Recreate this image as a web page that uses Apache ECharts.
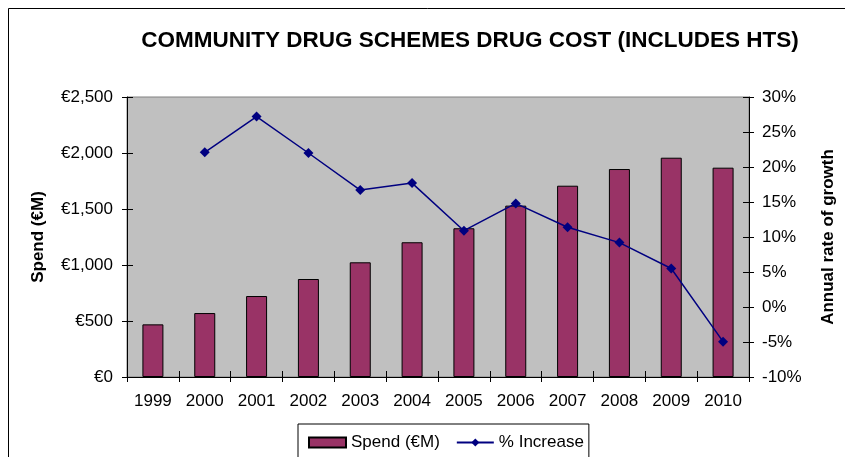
<!DOCTYPE html>
<html>
<head>
<meta charset="utf-8">
<script src="https://cdn.jsdelivr.net/npm/echarts@6/dist/echarts.min.js"></script>
<style>
  html, body { margin: 0; padding: 0; background: #fff; }
  #chart { width: 845px; height: 457px; }
</style>
</head>
<body>
<div id="chart"></div>
<script>
// Community drug schemes: yearly spend (€M) and annual growth (%)
const years = ['1999', '2000', '2001', '2002', '2003', '2004', '2005', '2006', '2007', '2008', '2009', '2010'];
const spend = [470, 571, 723, 875, 1024, 1203, 1328, 1530, 1708, 1857, 1958, 1869];
const increase = [null, 22.1, 27.2, 22.0, 16.7, 17.7, 10.9, 14.8, 11.4, 9.2, 5.5, -4.95];

const spendTicks = { min: 0, max: 2500, interval: 500 };
const growthTicks = { min: -10, max: 30, interval: 5 };

const FONT = 'Liberation Sans, Arial, sans-serif';
const labelStyle = { color: '#000', fontFamily: FONT, fontSize: 17 };

const chart = echarts.init(document.getElementById('chart'), null, { renderer: 'canvas' });

function euro(v) {
  return '€' + v.toLocaleString('en-US');
}

// second copies of each axis carry only the inner half of the cross tick marks
const innerTick = { show: true, inside: true, length: 6, lineStyle: { color: '#000', width: 1 } };

chart.setOption({
  animation: false,
  backgroundColor: '#fff',
  graphic: [{
    type: 'rect',
    shape: { x: 8.5, y: 8.5, width: 900, height: 500 },
    style: { fill: null, stroke: '#000', lineWidth: 1 },
    z: -10
  }],
  title: {
    text: 'COMMUNITY DRUG SCHEMES DRUG COST (INCLUDES HTS)',
    left: 465, top: 24, textAlign: 'center',
    textStyle: { fontFamily: FONT, fontSize: 22.5, fontWeight: 'bold', color: '#000' }
  },
  legend: {
    left: 298, top: 424,
    orient: 'horizontal',
    itemWidth: 37, itemHeight: 10, itemGap: 16,
    padding: [10, 5, 30, 10],
    borderColor: '#000', borderWidth: 1,
    backgroundColor: '#fff',
    textStyle: { fontFamily: FONT, fontSize: 17, color: '#000' },
    data: [
      { name: 'Spend (€M)', icon: 'rect' },
      { name: '% Increase' }
    ]
  },
  grid: {
    left: 127, right: 92, top: 97, bottom: 80,
    show: true, backgroundColor: '#c0c0c0', borderColor: '#808080', borderWidth: 1
  },
  xAxis: [{
    type: 'category', data: years, position: 'bottom',
    axisLine: { onZero: false, lineStyle: { color: '#000', width: 1 } },
    axisTick: { show: true, length: 5, lineStyle: { color: '#000' } },
    axisLabel: Object.assign({ margin: 16 }, labelStyle),
    splitLine: { show: false }
  }, {
    type: 'category', data: years, position: 'bottom',
    axisLine: { show: false, onZero: false }, axisTick: innerTick,
    axisLabel: { show: false }, splitLine: { show: false }
  }],
  yAxis: [{
    type: 'value', position: 'left',
    min: spendTicks.min, max: spendTicks.max, interval: spendTicks.interval,
    name: 'Spend (€M)', nameLocation: 'middle', nameGap: 80, nameRotate: 90,
    nameTextStyle: { fontFamily: FONT, fontSize: 17, fontWeight: 'bold', color: '#000' },
    axisLine: { show: true, lineStyle: { color: '#000' } },
    axisTick: { show: true, length: 5, lineStyle: { color: '#000' } },
    axisLabel: Object.assign({ margin: 14, formatter: euro }, labelStyle),
    splitLine: { show: false }
  }, {
    type: 'value', position: 'right',
    min: growthTicks.min, max: growthTicks.max, interval: growthTicks.interval,
    name: 'Annual rate of growth', nameLocation: 'middle', nameGap: 71, nameRotate: 90,
    nameTextStyle: { fontFamily: FONT, fontSize: 17, fontWeight: 'bold', color: '#000' },
    axisLine: { show: true, lineStyle: { color: '#000' } },
    axisTick: { show: true, length: 5, lineStyle: { color: '#000' } },
    axisLabel: Object.assign({ margin: 13, formatter: v => v + '%' }, labelStyle),
    splitLine: { show: false }
  }, {
    type: 'value', position: 'left',
    min: spendTicks.min, max: spendTicks.max, interval: spendTicks.interval,
    axisLine: { show: false }, axisTick: innerTick,
    axisLabel: { show: false }, splitLine: { show: false }
  }, {
    type: 'value', position: 'right',
    min: growthTicks.min, max: growthTicks.max, interval: growthTicks.interval,
    axisLine: { show: false }, axisTick: innerTick,
    axisLabel: { show: false }, splitLine: { show: false }
  }],
  series: [{
    name: 'Spend (€M)', type: 'bar', data: spend,
    xAxisIndex: 0, yAxisIndex: 0,
    barWidth: 21,
    itemStyle: { color: '#993366', borderColor: '#000', borderWidth: 1 }
  }, {
    name: '% Increase', type: 'line', data: increase,
    xAxisIndex: 0, yAxisIndex: 1,
    symbol: 'diamond', symbolSize: 10, showSymbol: true,
    lineStyle: { color: '#000080', width: 1.5 },
    itemStyle: { color: '#000080' },
    z: 5
  }]
});
</script>
</body>
</html>
